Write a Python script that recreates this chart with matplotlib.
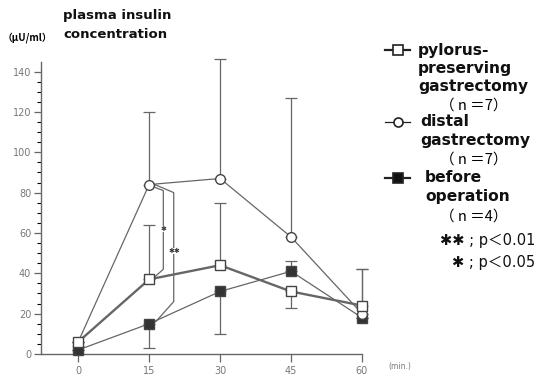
import matplotlib
matplotlib.use("Agg")
import matplotlib.pyplot as plt
from matplotlib.lines import Line2D

# tiempos (min) y valores
tiempos = [0, 15, 30, 45, 60]

ppg_media = [6, 37, 44, 31, 24]
ppg_sup = [0, 27, 31, 0, 18]
ppg_inf = [0, 0, 0, 8, 0]

dg_media = [6, 84, 87, 58, 20]
dg_sup = [0, 36, 59, 69, 22]
dg_inf = [0, 0, 0, 0, 0]

pre_media = [2, 15, 31, 41, 18]
pre_sup = [0, 0, 0, 5, 0]
pre_inf = [0, 12, 21, 0, 0]

yticks = [0, 20, 40, 60, 80, 100, 120, 140]

W, H = 538, 379
fig = plt.figure(figsize=(W / 100, H / 100), dpi=100)
ax = fig.add_axes([41 / W, (H - 354) / H, (362 - 41) / W, 292.5 / H])

gris = "#666666"
borde = "#444444"
latin = ["DejaVu Sans", "Noto Sans CJK JP"]
cjk = ["Noto Sans CJK JP", "DejaVu Sans"]

def serie(media, sup, inf, lw, marker, ms, fc, z):
    ax.errorbar(tiempos, media, yerr=[inf, sup], fmt="none", ecolor=gris,
                elinewidth=0.9, capsize=4, capthick=0.9, zorder=2, clip_on=False)
    ax.plot(tiempos, media, color=gris, lw=lw, marker=marker, ms=ms,
            mfc=fc, mec=borde, mew=1.0, zorder=z, clip_on=False)

serie(pre_media, pre_sup, pre_inf, 0.9, "s", 6.5, "#333333", 4)
serie(dg_media, dg_sup, dg_inf, 0.9, "o", 7, "white", 5)
serie(ppg_media, ppg_sup, ppg_inf, 1.7, "s", 7, "white", 6)

# llaves de significancia
ax.plot([15.8, 18, 18, 16.3], [83, 81, 42, 38.5], color=gris, lw=0.9, zorder=3)
ax.plot([16.2, 20.2, 20.2, 16.4], [84, 80, 26, 16], color=gris, lw=0.9, zorder=3)
ax.text(18, 62, "✱", ha="center", va="center", fontsize=5, color="#333333",
        family=latin, bbox=dict(fc="white", ec="none", pad=0.2), zorder=4)
ax.text(20.4, 51, "✱✱", ha="center", va="center", fontsize=5, color="#333333",
        family=latin, bbox=dict(fc="white", ec="none", pad=0.2), zorder=4)

ax.set_xlim(-7.86, 60)
ax.set_ylim(0, 145)
ax.spines["top"].set_visible(False)
ax.spines["right"].set_visible(False)
for s in ["left", "bottom"]:
    ax.spines[s].set_color(gris)
    ax.spines[s].set_linewidth(1.0)
ax.set_xticks(tiempos)
ax.set_xticklabels([str(t) for t in tiempos])
ax.set_yticks(yticks)
ax.set_yticks(range(0, 145, 5), minor=True)
ax.tick_params(axis="both", colors=gris, labelcolor="#777777", labelsize=7)
ax.tick_params(axis="y", which="major", length=5, width=0.9, pad=2)
ax.tick_params(axis="y", which="minor", length=3, width=0.8)
ax.tick_params(axis="x", which="major", length=6, width=0.9, pad=3)
for lab in ax.get_xticklabels() + ax.get_yticklabels():
    lab.set_family(latin)

fx = lambda px: px / W
fy = lambda py: (H - py) / H

fig.text(fx(388), fy(366), "(min.)", fontsize=5.5, color="#777777", family=latin,
         va="center")
fig.text(fx(63), fy(15), "plasma insulin", fontsize=9.5, weight="bold",
         family=latin, va="center", color="#111111")
fig.text(fx(63), fy(35), "concentration", fontsize=9.5, weight="bold",
         family=latin, va="center", color="#111111")
fig.text(fx(3), fy(38), "（μU/ml）", fontsize=7, weight="bold",
         family=cjk, va="center")

# leyenda manual
def muestra(py, marker, fc, lw, ms):
    fig.add_artist(Line2D([fx(385), fx(410)], [fy(py), fy(py)], color="#222222",
                          lw=lw, transform=fig.transFigure))
    fig.add_artist(Line2D([fx(397.5)], [fy(py)], marker=marker, ms=ms, mfc=fc,
                          mec="#222222", mew=1.2, transform=fig.transFigure))

muestra(50, "s", "white", 1.6, 7)
muestra(122, "o", "white", 0.9, 6.5)
muestra(178, "s", "#111111", 1.6, 7.5)

leyenda = [
    (418, 50, "pylorus-"), (418, 68, "preserving"), (418, 87, "gastrectomy"),
    (420, 122, "distal"), (420, 141, "gastrectomy"),
    (425, 178, "before"), (425, 197, "operation"),
]
for px, py, txt in leyenda:
    fig.text(fx(px), fy(py), txt, fontsize=11.2, weight="bold", family=latin,
             va="center", color="#111111")

grupos_n = [(440, 106, "（ n ＝7）"), (440, 160, "（ n ＝7）"), (440, 217, "（ n ＝4）")]
for px, py, txt in grupos_n:
    fig.text(fx(px), fy(py), txt, fontsize=10.5, family=cjk, va="center")

signif = [(241, "✱✱ ; p＜0.01"), (263, "✱ ; p＜0.05")]
for py, txt in signif:
    fig.text(fx(535), fy(py), txt, fontsize=10.5, family=latin, va="center",
             ha="right", color="#111111")

fig.savefig("out.png", dpi=100)
